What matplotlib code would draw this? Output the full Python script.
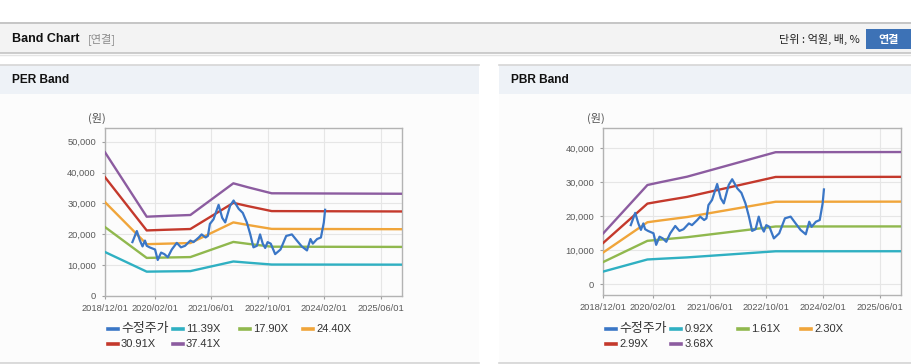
import numpy as np
import matplotlib
matplotlib.use('Agg')
import matplotlib.pyplot as plt
import matplotlib.dates as mdates
from matplotlib.patches import Rectangle
from matplotlib.lines import Line2D

# ---------------- data ----------------
price_label = '수정주가'
price_dates = ['2019-07-25', '2019-09-01', '2019-09-28', '2019-10-20', '2019-11-10', '2019-11-25',
               '2019-12-20', '2020-02-05', '2020-02-28', '2020-03-28', '2020-04-25', '2020-05-25',
               '2020-06-28', '2020-08-10', '2020-09-15', '2020-10-20', '2020-12-05', '2021-01-01',
               '2021-02-15', '2021-03-12', '2021-04-15', '2021-05-05', '2021-05-22', '2021-06-22',
               '2021-08-05', '2021-09-05', '2021-10-01', '2021-11-12', '2021-12-12', '2022-01-25',
               '2022-03-01', '2022-04-05', '2022-05-05', '2022-06-01', '2022-07-01', '2022-07-28',
               '2022-08-20', '2022-09-10', '2022-10-01', '2022-10-28', '2022-12-05', '2023-01-20',
               '2023-03-10', '2023-04-28', '2023-06-10', '2023-07-22', '2023-09-05', '2023-10-05',
               '2023-10-25', '2023-12-01', '2024-01-03', '2024-01-28', '2024-02-08']
price_values = [17400, 21000, 17900, 16000, 17900, 16200,
                15700, 15000, 11600, 14000, 13500, 12500,
                15000, 17150, 15700, 16200, 17900, 17400,
                18900, 19900, 18900, 19400, 23300, 24800,
                29500, 25300, 23800, 29200, 30900, 28200,
                26900, 23800, 19900, 15700, 16200, 19900,
                16900, 15500, 17400, 16900, 13500, 15000,
                19400, 19900, 17900, 16000, 14700, 18400,
                16900, 18400, 18900, 23800, 27900]

per_dates = ['2018-12-01', '2019-11-25', '2020-05-01', '2020-12-05', '2021-12-10',
             '2022-04-15', '2022-11-05', '2025-12-01']
per_labels = ['11.39X', '17.90X', '24.40X', '30.91X', '37.41X']
per_1139 = [14180, 7810, 7890, 7980, 11110, 10720, 10120, 10080]
per_1790 = [22280, 12270, 12390, 12540, 17460, 16840, 15910, 15840]
per_2440 = [30370, 16730, 16890, 17090, 23800, 22960, 21690, 21590]
per_3091 = [38470, 21190, 21400, 21650, 30150, 29080, 27470, 27350]
per_3741 = [46560, 25650, 25900, 26200, 36490, 35200, 33250, 33100]

pbr_dates = ['2018-12-01', '2019-12-15', '2020-04-01', '2020-11-20', '2022-12-20', '2025-12-01']
pbr_labels = ['0.92X', '1.61X', '2.30X', '2.99X', '3.68X']
pbr_092 = [3750, 7300, 7500, 7910, 9710, 9720]
pbr_161 = [6560, 12780, 13130, 13850, 17000, 17020]
pbr_230 = [9380, 18250, 18750, 19780, 24280, 24310]
pbr_299 = [12190, 23730, 24380, 25710, 31570, 31600]
pbr_368 = [15000, 29200, 30000, 31650, 38850, 38900]

x_tick_dates = ['2018-12-01', '2020-02-01', '2021-06-01', '2022-10-01', '2024-02-01', '2025-06-01']
x_tick_labels = ['2018/12/01', '2020/02/01', '2021/06/01', '2022/10/01', '2024/02/01', '2025/06/01']
per_y_ticks = [0, 10000, 20000, 30000, 40000, 50000]
pbr_y_ticks = [0, 10000, 20000, 30000, 40000]

colors = ['#3a76c6', '#2fb0c2', '#90b84e', '#f0a53a', '#c4392c', '#8c5ca0']

# ---------------- style ----------------
W, H = 912, 364
FONT = ['Liberation Sans', 'Noto Sans CJK KR', 'DejaVu Sans']
KFONT = ['Noto Sans CJK KR', 'DejaVu Sans']
plt.rcParams['font.family'] = FONT

fig = plt.figure(figsize=(W / 100, H / 100), dpi=100)
fig.patch.set_facecolor('white')


def fx(x):
    return x / W


def fy(y):
    return 1 - y / H


def rect(x0, y0, x1, y1, color, z=-10):
    fig.patches.append(Rectangle((fx(x0), fy(y1)), fx(x1) - fx(x0), fy(y0) - fy(y1),
                                 transform=fig.transFigure, facecolor=color,
                                 edgecolor='none', zorder=z))


def hline(x0, x1, y, color, lw=1.0):
    fig.add_artist(Line2D([fx(x0), fx(x1)], [fy(y), fy(y)], transform=fig.transFigure,
                          color=color, lw=lw, zorder=-5))


# top header
rect(0, 22, W, 53, '#f3f3f3')
hline(0, W, 22.5, '#bdbdbd', 1.2)
hline(0, W, 53, '#c4c4c4', 1.2)
hline(0, W, 54.5, '#e4e4e4', 1.0)
fig.text(fx(12), fy(39), 'Band Chart', fontsize=9, fontweight='bold', family=FONT,
         color='#111111', va='center', ha='left')
fig.text(fx(88), fy(39), '[연결]', fontsize=8, family=KFONT, color='#8a8a8a',
         va='center', ha='left')
fig.text(fx(860), fy(39), '단위 : 억원, 배, %', fontsize=8, family=KFONT, color='#222222',
         va='center', ha='right')
rect(866, 29, 912, 49, '#3d72b6', z=-4)
fig.text(fx(889), fy(39), '연결', fontsize=8, family=KFONT, fontweight='bold',
         color='white', va='center', ha='center')

# panels
for (px0, px1) in [(0, 479), (499, W)]:
    rect(px0, 94, px1, 363, '#fcfcfc')
    rect(px0, 65, px1, 94, '#eef2f7')
    hline(px0, px1, 64.5, '#d6d6d6', 1.2)
    hline(px0, px1, 363, '#d4d4d4', 1.2)
fig.text(fx(12), fy(80), 'PER Band', fontsize=8.6, fontweight='bold', family=FONT,
         color='#111111', va='center', ha='left')
fig.text(fx(511), fy(80), 'PBR Band', fontsize=8.6, fontweight='bold', family=FONT,
         color='#111111', va='center', ha='left')


def to_dt(lst):
    return np.array(lst, dtype='datetime64[D]')


def make_axes(left, right, top, bottom, ylim, yticks, band_dates, bands, labels, unit_x):
    ax = fig.add_axes([fx(left), fy(bottom), fx(right) - fx(left), fy(top) - fy(bottom)])
    ax.set_zorder(2)
    ax.set_facecolor('none')
    bd = to_dt(band_dates)
    for i, vals in enumerate(bands):
        ax.plot(bd, vals, color=colors[i + 1], lw=1.7, solid_joinstyle='round', zorder=3)
    ax.plot(to_dt(price_dates), price_values, color=colors[0], lw=1.6,
            solid_joinstyle='round', zorder=4)
    ax.set_xlim(np.datetime64('2018-12-01'), np.datetime64('2025-12-01'))
    ax.set_ylim(*ylim)
    ax.set_xticks(mdates.date2num(to_dt(x_tick_dates)))
    ax.set_xticklabels(x_tick_labels)
    ax.set_yticks(yticks)
    ax.set_yticklabels([f'{v:,}' for v in yticks])
    ax.tick_params(axis='both', labelsize=6.7, colors='#a0a0a0', labelcolor='#5a5a5a',
                   length=2.5, width=0.8)
    ax.tick_params(axis='x', pad=3.5)
    ax.tick_params(axis='y', pad=4)
    ax.grid(True, color='#e6e6e6', lw=0.8, zorder=0)
    ax.set_axisbelow(True)
    for s in ax.spines.values():
        s.set_color('#b3b3b3')
        s.set_linewidth(1.0)
    fig.text(fx(unit_x), fy(118), '(원)', fontsize=8, family=KFONT, color='#555555',
             va='center', ha='left')
    # legend
    items = [(price_label, colors[0])] + [(labels[i], colors[i + 1]) for i in range(len(labels))]
    col_off = [3, 68, 135, 198]
    for i, (lab, c) in enumerate(items):
        col, row = i % 4, i // 4
        x0 = left + col_off[col]
        y = 329 + 15 * row
        fig.add_artist(Line2D([fx(x0), fx(x0 + 10)], [fy(y), fy(y)], transform=fig.transFigure,
                              color=c, lw=2.6))
        fig.text(fx(x0 + 13), fy(y), lab, fontsize=(9.3 if i == 0 else 8), color='#333333',
                 va='center', ha='left', family=FONT)
    return ax


make_axes(105, 402, 128, 295.7, (0, 54450), per_y_ticks, per_dates,
          [per_1139, per_1790, per_2440, per_3091, per_3741], per_labels, 88)
make_axes(603.3, 901, 128.3, 295, (-3150, 45880), pbr_y_ticks, pbr_dates,
          [pbr_092, pbr_161, pbr_230, pbr_299, pbr_368], pbr_labels, 587)

fig.savefig('out.png', dpi=100)
